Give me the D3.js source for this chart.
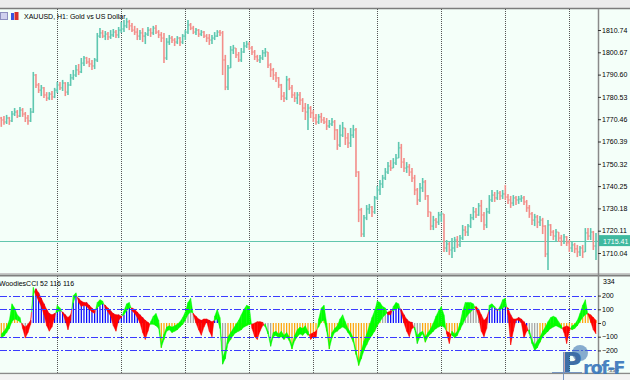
<!DOCTYPE html>
<html>
<head>
<meta charset="utf-8">
<script src="https://cdn.jsdelivr.net/npm/d3@7"></script>
<style>
  body { margin: 0; background: #fff; }
  svg { display: block; }
</style>
</head>
<body>
<script>
// XAUUSD H1 bars
var opens = [1771.0,1770.1,1769.2,1771.0,1769.7,1772.8,1773.7,1771.9,1774.6,1772.8,
  1771.0,1769.7,1773.7,1790.4,1785.9,1783.6,1784.6,1781.4,1780.0,1781.8,
  1780.5,1783.6,1785.9,1784.6,1786.8,1782.7,1785.9,1789.1,1790.4,1792.7,
  1791.8,1795.8,1798.1,1796.3,1795.4,1794.5,1797.2,1808.0,1809.4,1808.0,
  1808.9,1807.6,1808.5,1809.8,1808.5,1810.7,1811.2,1812.6,1814.4,1812.6,
  1810.7,1809.8,1808.0,1809.4,1808.0,1808.9,1810.7,1809.4,1811.6,1809.8,
  1808.5,1807.1,1798.1,1805.3,1807.1,1806.2,1805.3,1807.1,1805.3,1808.0,
  1809.8,1813.0,1811.6,1809.8,1810.7,1808.9,1809.8,1808.0,1807.1,1806.2,
  1807.1,1808.0,1809.8,1809.4,1797.2,1785.0,1793.6,1801.7,1802.6,1799.5,
  1797.2,1800.8,1803.5,1804.4,1802.6,1800.8,1798.6,1797.2,1798.1,1800.4,
  1800.8,1794.9,1792.7,1790.4,1789.1,1785.9,1780.9,1780.0,1788.2,1784.6,
  1781.4,1780.0,1781.4,1779.1,1775.5,1773.7,1775.5,1773.3,1771.0,1769.2,
  1771.5,1770.1,1769.2,1767.4,1768.3,1769.2,1765.6,1758.8,1763.3,1766.5,
  1762.0,1759.7,1763.3,1765.6,1746.6,1729.5,1718.6,1725.9,1729.9,1730.8,
  1728.6,1734.9,1738.5,1741.2,1743.9,1746.6,1749.3,1748.4,1750.7,1752.9,
  1757.5,1751.1,1748.4,1748.9,1746.6,1743.9,1738.5,1734.0,1739.4,1742.1,
  1735.8,1728.6,1722.2,1724.9,1724.0,1727.2,1727.7,1712.3,1714.1,1711.4,
  1712.3,1715.9,1713.7,1716.8,1720.4,1719.5,1722.2,1725.9,1728.6,1727.2,
  1731.3,1727.2,1722.7,1728.6,1734.0,1736.2,1734.9,1737.1,1735.8,1736.7,
  1735.3,1734.0,1732.6,1734.9,1734.0,1734.4,1734.9,1733.1,1730.4,1727.7,
  1724.9,1726.3,1724.0,1724.9,1722.2,1709.6,1722.7,1719.5,1717.7,1719.5,
  1716.8,1715.4,1717.3,1714.6,1712.3,1713.7,1711.9,1710.5,1712.3,1710.5,
  1719.1,1717.7,1719.5,1713.2];

var highs = [1771.5,1771.9,1772.4,1771.5,1774.2,1775.5,1774.6,1776.0,1775.5,1773.7,
  1772.4,1775.5,1791.8,1790.9,1786.8,1785.9,1785.0,1782.7,1782.7,1783.2,
  1784.6,1787.3,1787.3,1788.2,1787.2,1787.3,1790.9,1792.7,1794.9,1795.4,
  1798.1,1799.0,1798.6,1798.1,1797.2,1798.1,1809.4,1811.6,1810.7,1810.3,
  1809.8,1810.7,1811.2,1810.7,1812.1,1814.4,1815.3,1816.2,1815.3,1813.9,
  1812.6,1811.6,1810.7,1811.6,1809.8,1812.1,1811.6,1812.6,1813.0,1810.7,
  1809.8,1809.4,1807.1,1808.5,1808.0,1807.1,1808.0,1807.6,1808.9,1810.7,
  1815.3,1813.9,1812.6,1811.6,1811.2,1810.7,1810.3,1808.9,1808.9,1808.5,
  1809.8,1810.7,1810.7,1810.3,1799.5,1794.9,1803.5,1804.0,1802.6,1800.8,
  1802.6,1805.3,1805.8,1805.3,1803.5,1801.7,1799.5,1799.5,1801.7,1802.6,
  1800.8,1795.8,1793.6,1791.8,1789.5,1786.4,1782.7,1790.0,1789.1,1785.9,
  1782.7,1782.7,1782.7,1780.0,1777.8,1777.3,1776.4,1774.6,1772.8,1772.8,
  1773.3,1771.5,1771.0,1770.1,1771.0,1770.1,1766.0,1767.9,1769.2,1766.5,
  1764.2,1766.5,1767.9,1766.5,1747.0,1730.4,1727.2,1731.7,1732.2,1731.3,
  1735.8,1740.3,1743.0,1745.3,1748.4,1751.1,1752.0,1752.9,1754.8,1760.2,
  1759.3,1752.9,1751.1,1750.2,1748.4,1745.3,1739.4,1741.7,1743.9,1743.0,
  1736.2,1728.6,1726.8,1725.9,1728.6,1728.6,1727.7,1715.9,1715.0,1716.8,
  1717.3,1717.7,1718.2,1722.7,1722.2,1723.1,1727.7,1730.8,1730.4,1732.6,
  1734.0,1728.6,1730.4,1736.2,1738.5,1737.6,1738.5,1738.0,1738.5,1740.8,
  1736.7,1735.8,1736.2,1735.8,1735.8,1736.2,1735.8,1734.0,1731.7,1728.6,
  1727.7,1727.2,1726.8,1725.9,1722.6,1724.9,1723.1,1720.4,1720.9,1719.5,
  1718.2,1718.6,1717.7,1715.9,1715.0,1714.6,1713.7,1713.2,1713.7,1721.3,
  1721.3,1721.3,1720.0,1719.1];

var lows = [1767.0,1767.9,1768.3,1767.9,1769.2,1771.9,1771.0,1771.5,1771.5,1769.2,
  1767.9,1769.2,1773.3,1784.6,1782.3,1780.9,1780.0,1778.7,1779.1,1779.1,
  1780.0,1782.3,1783.6,1783.2,1780.9,1781.4,1785.5,1788.2,1789.5,1790.4,
  1791.3,1794.5,1795.4,1794.0,1792.7,1793.1,1796.3,1807.1,1807.1,1806.2,
  1806.2,1806.7,1807.6,1807.1,1807.1,1809.4,1809.8,1811.6,1810.7,1809.8,
  1808.5,1806.2,1806.2,1805.3,1804.4,1808.0,1807.6,1808.5,1808.9,1807.1,
  1805.3,1795.8,1797.2,1804.0,1804.9,1803.5,1804.4,1803.5,1804.4,1806.2,
  1808.9,1810.7,1808.9,1808.5,1807.6,1808.0,1807.1,1805.3,1804.0,1804.4,
  1806.2,1807.6,1808.0,1790.4,1783.6,1783.6,1793.6,1799.9,1798.1,1796.3,
  1796.3,1800.4,1802.6,1801.7,1799.5,1797.2,1796.3,1795.8,1797.2,1798.6,
  1793.6,1789.5,1788.2,1787.3,1784.6,1779.1,1778.2,1779.1,1783.6,1780.0,
  1778.2,1777.3,1776.9,1773.7,1770.1,1765.6,1771.0,1769.2,1767.9,1768.3,
  1768.8,1768.3,1765.6,1766.5,1767.4,1761.1,1756.6,1757.9,1762.4,1758.8,
  1757.5,1757.9,1762.0,1744.4,1724.0,1717.3,1717.3,1724.9,1727.7,1726.3,
  1727.7,1734.0,1736.2,1739.4,1743.0,1745.7,1747.1,1748.4,1749.8,1752.9,
  1748.4,1746.6,1746.2,1744.8,1742.1,1736.2,1731.7,1733.1,1737.6,1734.0,
  1726.3,1720.4,1720.4,1721.3,1722.7,1724.0,1710.5,1710.5,1709.1,1707.8,
  1710.5,1712.3,1712.8,1715.9,1717.7,1717.7,1721.3,1724.9,1725.9,1726.8,
  1724.0,1720.4,1721.3,1727.7,1733.1,1733.1,1734.0,1734.0,1734.4,1734.0,
  1732.2,1730.4,1731.3,1731.7,1732.2,1733.1,1731.7,1728.6,1725.9,1722.7,
  1722.2,1721.3,1722.2,1718.6,1708.2,1702.4,1717.7,1715.9,1715.0,1715.0,
  1713.2,1714.1,1713.2,1710.5,1710.5,1710.0,1708.2,1708.7,1707.8,1710.5,
  1715.9,1715.9,1711.4,1706.9];

var closes = [1770.1,1769.2,1771.0,1769.7,1772.8,1773.7,1771.9,1774.6,1772.8,1771.0,
  1769.7,1773.7,1790.4,1785.9,1783.6,1784.6,1781.4,1780.0,1781.8,1780.5,
  1783.6,1785.9,1784.6,1786.8,1782.7,1785.9,1789.1,1790.4,1792.7,1791.8,
  1795.8,1798.1,1796.3,1795.4,1794.5,1797.2,1808.0,1809.4,1808.0,1808.9,
  1807.6,1808.5,1809.8,1808.5,1810.7,1811.2,1812.6,1814.4,1812.6,1810.7,
  1809.8,1808.0,1809.4,1808.0,1808.9,1810.7,1809.4,1811.6,1809.8,1808.5,
  1807.1,1798.1,1805.3,1807.1,1806.2,1805.3,1807.1,1805.3,1808.0,1809.8,
  1813.0,1811.6,1809.8,1810.7,1808.9,1809.8,1808.0,1807.1,1806.2,1807.1,
  1808.0,1809.8,1809.4,1797.2,1785.0,1793.6,1801.7,1802.6,1799.5,1797.2,
  1800.8,1803.5,1804.4,1802.6,1800.8,1798.6,1797.2,1798.1,1800.4,1800.8,
  1794.9,1792.7,1790.4,1789.1,1785.9,1780.9,1780.0,1788.2,1784.6,1781.4,
  1780.0,1781.4,1779.1,1775.5,1773.7,1775.5,1773.3,1771.0,1769.2,1771.5,
  1770.1,1769.2,1767.4,1768.3,1769.2,1765.6,1758.8,1763.3,1766.5,1762.0,
  1759.7,1763.3,1765.6,1746.6,1729.5,1718.6,1725.9,1729.9,1730.8,1728.6,
  1734.9,1738.5,1741.2,1743.9,1746.6,1749.3,1748.4,1750.7,1752.9,1757.5,
  1751.1,1748.4,1748.9,1746.6,1743.9,1738.5,1734.0,1739.4,1742.1,1735.8,
  1728.6,1722.2,1724.9,1724.0,1727.2,1727.7,1712.3,1714.1,1711.4,1712.3,
  1715.9,1713.7,1716.8,1720.4,1719.5,1722.2,1725.9,1728.6,1727.2,1731.3,
  1727.2,1722.7,1728.6,1734.0,1736.2,1734.9,1737.1,1735.8,1736.7,1735.3,
  1734.0,1732.6,1734.9,1734.0,1734.4,1734.9,1733.1,1730.4,1727.7,1724.9,
  1726.3,1724.0,1724.9,1722.2,1709.6,1722.7,1719.5,1717.7,1719.5,1716.8,
  1715.4,1717.3,1714.6,1712.3,1713.7,1711.9,1710.5,1712.3,1710.5,1719.1,
  1717.7,1719.5,1713.2,1715.41];

// Woodies CCI: main CCI (histogram) and turbo CCI (other edge of the ribbon)
var cciValues = [-110,-95,-70,-40,10,30,20,10,-10,-30,
  -10,20,200,250,220,180,140,100,70,60,
  70,80,90,80,60,40,60,150,200,180,
  160,150,150,130,110,90,110,130,140,130,
  110,90,70,60,60,50,60,90,110,110,
  100,80,60,40,20,5,-10,-10,-20,-40,
  -180,-120,-60,-50,-70,-60,-50,-30,-10,20,
  60,80,70,50,30,20,30,30,20,10,
  20,30,-40,-300,-260,-150,-120,-90,-70,-60,
  -50,-30,-20,-10,-10,0,10,10,5,-30,
  -80,-170,-100,-90,-110,-100,-120,-100,-130,-190,
  -130,-100,-80,-90,-70,-90,-80,-70,-60,-30,
  10,20,-60,-190,-110,-70,-60,-40,-30,-40,
  -70,-100,-140,-230,-310,-260,-200,-160,-120,-90,
  -60,-20,10,40,60,80,90,90,100,110,
  100,60,30,10,5,-50,-150,-100,-80,-140,
  -100,-80,-60,-40,-30,-20,-30,-60,-70,-90,
  -110,-90,-50,-10,30,60,80,100,120,100,
  60,20,40,100,120,110,100,90,110,120,
  110,60,30,30,40,30,10,-20,-80,-150,
  -200,-180,-140,-100,-80,-60,-40,-30,-20,-30,
  -40,-30,-20,-30,-50,-40,-20,10,40,60,
  70,60,40,20];

var turboValues = [-80,-60,-30,20,140,110,60,40,-40,-110,
  -70,-10,260,200,160,120,60,-20,-60,-30,
  40,130,110,70,20,-50,20,200,220,150,
  120,130,120,100,80,70,150,170,160,110,
  80,50,-20,-60,20,40,90,140,150,90,
  70,40,0,-70,-120,-60,10,50,70,20,
  -150,-80,-30,-20,-30,-20,-10,10,40,80,
  150,180,60,0,-50,-90,-30,10,-60,-100,
  50,100,40,-250,-200,-100,-70,-40,-10,20,
  60,100,130,120,-40,-100,-120,-60,-20,-10,
  -60,-140,-70,-60,-80,-60,-90,-70,-100,-160,
  -90,-50,-30,-40,-20,-60,-120,-100,-110,30,
  110,130,0,-150,-70,-40,-20,30,60,10,
  -40,-70,-110,-200,-280,-200,-130,-80,-20,40,
  90,160,150,120,110,60,60,120,150,140,
  70,0,-60,-100,-40,-30,-90,-70,-60,-100,
  -70,-40,0,50,90,120,60,-80,-150,-60,
  -80,-60,0,90,150,150,150,140,100,40,
  -60,-100,-40,130,140,120,90,120,170,180,
  60,-160,-60,20,20,0,-110,-60,-50,-120,
  -160,-130,-100,-60,-30,10,40,50,40,10,
  -20,-70,-150,-60,-20,-10,20,70,130,170,
  60,10,-50,-80];

// histogram colour runs: b = trend up, o = trend down, g = neutral
var trendRuns = [["o",7],["g",4],["b",43],["g",3],["o",12],["g",5],["b",8],["g",3],
  ["o",9],["g",8],["o",41],["g",2],["b",10],["g",3],["o",15],["g",8],["b",17],["g",4],["o",22]];

var priceTicks = [1810.74, 1800.67, 1790.60, 1780.53, 1770.46, 1760.39, 1750.32, 1740.25, 1730.18, 1720.11, 1710.04];
var cciTicks = [200, 100, 0, -100, -200];
var cciLevels = [200, 100, -100, -200];
var daySeparators = [21, 45, 69, 93, 117, 141, 165, 189, 213];
var lastPrice = 1715.41;

var width = 630, height = 380,
    axisX = 598,
    mainTop = 9, mainBottom = 273,
    subTop = 276, subBottom = 373;

var svg = d3.select("body")
    .append("svg")
        .attr("width", width)
        .attr("height", height)
        .style("font-family", "'Liberation Sans', Arial, sans-serif");

svg.append("rect")
    .attr("width", width).attr("height", height)
    .attr("fill", "#f4fff9");

// window frame bits
svg.append("rect").attr("width", width).attr("height", 8).attr("fill", "#ececec");
svg.append("line").attr("x1", 0).attr("x2", width).attr("y1", 8.5).attr("y2", 8.5)
    .attr("stroke", "#7c7c7c").attr("stroke-width", 1.4);

var x = d3.scaleLinear().domain([0, closes.length - 1]).range([1.3, 596]);
var y = d3.scaleLinear().domain([1710.04, 1810.74]).range([253, 30]);
var yc = d3.scaleLinear().domain([-334, 334]).range([368.8, 277.2]);

var defs = svg.append("defs");
defs.append("clipPath").attr("id", "clipMain").append("rect")
    .attr("x", 0).attr("y", mainTop).attr("width", axisX).attr("height", mainBottom - mainTop);
defs.append("clipPath").attr("id", "clipSub").append("rect")
    .attr("x", 0).attr("y", subTop).attr("width", axisX).attr("height", subBottom - subTop);

// dotted day separators through both panels
[[mainTop, mainBottom], [subTop, subBottom]].forEach(function(p) {
    svg.append("g").selectAll("line")
        .data(daySeparators)
        .enter()
        .append("line")
            .attr("x1", function(d) { return Math.round(x(d)) + 0.5; })
            .attr("x2", function(d) { return Math.round(x(d)) + 0.5; })
            .attr("y1", p[0]).attr("y2", p[1])
            .attr("stroke", "#555")
            .attr("stroke-dasharray", "1,1");
});

// title
svg.append("rect").attr("x", 0.5).attr("y", 12.5).attr("width", 7).attr("height", 7)
    .attr("fill", "#cfd0ee").attr("stroke", "#8d8fc0");
svg.append("rect").attr("x", 11).attr("y", 13).attr("width", 3).attr("height", 7).attr("fill", "#3a55e0");
svg.append("rect").attr("x", 14.5).attr("y", 12).attr("width", 4).attr("height", 8).attr("fill", "#d8302c");
svg.append("text")
    .attr("x", 24).attr("y", 19)
    .style("font-size", "7px")
    .text("XAUUSD, H1:  Gold vs US Dollar");

// current price line
svg.append("line")
    .attr("x1", 0).attr("x2", axisX)
    .attr("y1", Math.round(y(lastPrice)) + 0.5).attr("y2", Math.round(y(lastPrice)) + 0.5)
    .attr("stroke", "#62c6ae");

// OHLC bars
var upColor = "#5ec7b0", downColor = "#f38e8a";
var bars = svg.append("g").attr("clip-path", "url(#clipMain)")
    .selectAll("g")
    .data(closes.map(function(c, i) { return {i: i, o: opens[i], h: highs[i], l: lows[i], c: c}; }))
    .enter()
    .append("g")
        .attr("stroke", function(d) { return d.c >= d.o ? upColor : downColor; });

bars.append("line")
    .attr("x1", function(d) { return x(d.i); })
    .attr("x2", function(d) { return x(d.i); })
    .attr("y1", function(d) { return y(d.h); })
    .attr("y2", function(d) { return y(d.l); })
    .attr("stroke-width", 1.6);
bars.append("line")
    .attr("x1", function(d) { return x(d.i) - 1.3; })
    .attr("x2", function(d) { return x(d.i); })
    .attr("y1", function(d) { return y(d.o); })
    .attr("y2", function(d) { return y(d.o); });
bars.append("line")
    .attr("x1", function(d) { return x(d.i); })
    .attr("x2", function(d) { return x(d.i) + 1.3; })
    .attr("y1", function(d) { return y(d.c); })
    .attr("y2", function(d) { return y(d.c); });

// panel separator
svg.append("line").attr("x1", 0).attr("x2", width).attr("y1", 273.5).attr("y2", 273.5).attr("stroke", "#c8c8c8");
svg.append("rect").attr("x", 0).attr("y", 274.5).attr("width", width).attr("height", 2).attr("fill", "#7f7f7f");

// Woodies CCI histogram
var trend = [];
trendRuns.forEach(function(r) { for (var k = 0; k < r[1]; k++) trend.push(r[0]); });
var trendColor = {b: "#0000ff", o: "#ffa200", g: "#a3a3a3"};

var sub = svg.append("g").attr("clip-path", "url(#clipSub)");

sub.selectAll(".hist")
    .data(cciValues)
    .enter()
    .append("line")
        .attr("class", "hist")
        .attr("x1", function(d, i) { return x(i); })
        .attr("x2", function(d, i) { return x(i); })
        .attr("y1", yc(0))
        .attr("y2", function(d) { return yc(d); })
        .attr("stroke", function(d, i) { return trendColor[trend[i]] || "#a3a3a3"; })
        .attr("stroke-width", 1.2);

// ribbon between CCI and turbo CCI: green when turbo is above, red when below
var ribbon = [];
for (var i = 0; i < cciValues.length - 1; i++) {
    var x0 = x(i), x1 = x(i + 1),
        c0 = cciValues[i], c1 = cciValues[i + 1],
        t0 = turboValues[i], t1 = turboValues[i + 1],
        d0 = t0 - c0, d1 = t1 - c1;
    if (d0 * d1 < 0) {
        var f = d0 / (d0 - d1),
            xm = x0 + f * (x1 - x0),
            vm = c0 + f * (c1 - c0);
        ribbon.push({pts: [[x0, c0], [xm, vm], [x0, t0]], up: d0 > 0});
        ribbon.push({pts: [[xm, vm], [x1, c1], [x1, t1]], up: d1 > 0});
    } else {
        ribbon.push({pts: [[x0, c0], [x1, c1], [x1, t1], [x0, t0]], up: d0 + d1 >= 0});
    }
}
var poly = d3.line().x(function(p) { return p[0]; }).y(function(p) { return yc(p[1]); });
sub.selectAll(".ribbon")
    .data(ribbon)
    .enter()
    .append("path")
        .attr("class", "ribbon")
        .attr("d", function(d) { return poly(d.pts) + "Z"; })
        .attr("fill", function(d) { return d.up ? "#00ff00" : "#ff0000"; })
        .attr("stroke", function(d) { return d.up ? "#00ff00" : "#ff0000"; })
        .attr("stroke-width", 0.4);

// dash-dot levels
sub.selectAll(".level")
    .data(cciLevels)
    .enter()
    .append("line")
        .attr("class", "level")
        .attr("x1", 0).attr("x2", axisX)
        .attr("y1", function(d) { return Math.round(yc(d)) + 0.5; })
        .attr("y2", function(d) { return Math.round(yc(d)) + 0.5; })
        .attr("stroke", "#3b3bff")
        .attr("stroke-dasharray", "7,2,2,2");

svg.append("text")
    .attr("x", -1).attr("y", 286)
    .style("font-size", "7px")
    .text("WoodiesCCI 52 116 116");

// right scales
svg.append("line")
    .attr("x1", axisX + 0.5).attr("x2", axisX + 0.5)
    .attr("y1", mainTop).attr("y2", subBottom)
    .attr("stroke", "#8a8a8a").attr("stroke-width", 1.5);

var priceAxis = svg.append("g")
    .attr("transform", "translate(" + axisX + ",0)")
    .call(d3.axisRight(y).tickValues(priceTicks).tickSize(3).tickPadding(1).tickFormat(d3.format(".2f")));
var cciAxis = svg.append("g")
    .attr("transform", "translate(" + axisX + ",0)")
    .call(d3.axisRight(yc).tickValues(cciTicks).tickSize(3).tickPadding(1).tickFormat(d3.format("d")));
[priceAxis, cciAxis].forEach(function(a) {
    a.select(".domain").remove();
    a.selectAll("line").attr("stroke", "#333");
    a.selectAll("text").attr("fill", "#000").style("font-size", "7px")
        .style("font-family", "'Liberation Sans', Arial, sans-serif");
});
svg.append("text").attr("x", 603).attr("y", 283.5).style("font-size", "7px").text("334");
svg.append("text").attr("x", 607).attr("y", 371.5).style("font-size", "6px").attr("fill", "#555").text("-334");

// last price tag
svg.append("rect")
    .attr("x", axisX + 1).attr("y", y(lastPrice) - 6)
    .attr("width", width - axisX - 1).attr("height", 11)
    .attr("fill", "#3fb99f");
svg.append("text")
    .attr("x", 603).attr("y", y(lastPrice) + 2.5)
    .attr("fill", "#fff")
    .style("font-size", "7px")
    .text(d3.format(".2f")(lastPrice));

// bottom frame
svg.append("line").attr("x1", 0).attr("x2", width).attr("y1", 373.5).attr("y2", 373.5)
    .attr("stroke", "#8a8a8a").attr("stroke-width", 1.4);
svg.append("rect").attr("x", 0).attr("y", 374.5).attr("width", width).attr("height", 6).attr("fill", "#f3f3f3");

// watermark
var logo = svg.append("g").attr("opacity", 0.92);
logo.append("line").attr("x1", 563.5).attr("x2", 563.5).attr("y1", 352).attr("y2", 380)
    .attr("stroke", "#6f8fbf");
logo.append("line").attr("x1", 552).attr("x2", 582).attr("y1", 372.5).attr("y2", 372.5)
    .attr("stroke", "#6f8fbf");
logo.append("circle").attr("cx", 580).attr("cy", 353).attr("r", 8).attr("fill", "#4a7fb8").attr("opacity", 0.7);
logo.append("text").attr("x", 562).attr("y", 372)
    .style("font", "bold 27px 'DejaVu Sans'").attr("fill", "#2f62a0").text("P");
logo.append("text").attr("x", 583).attr("y", 374)
    .style("font", "bold 18px 'DejaVu Sans'").style("letter-spacing", "-1.5px")
    .attr("fill", "#3b78bd").text("rof-F");
</script>
</body>
</html>
